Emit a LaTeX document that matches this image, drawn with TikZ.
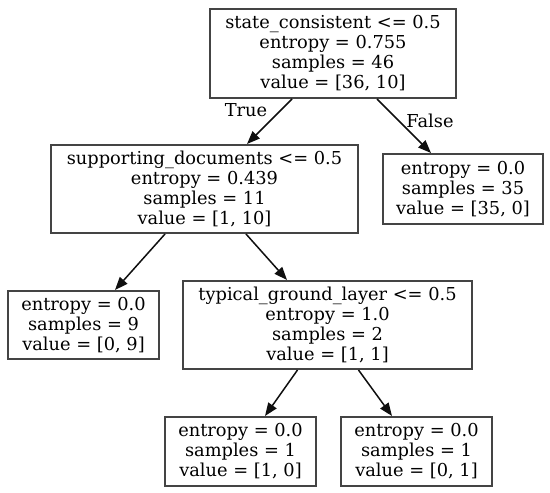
\documentclass[tikz,border=0pt]{standalone}
\usepackage{fontspec}
\usepackage{tikz}
\usetikzlibrary{arrows.meta}
\setmainfont{DejaVu Serif}
\definecolor{boxline}{RGB}{68,68,68}
\definecolor{edgeline}{RGB}{15,15,15}

\begin{document}
\begin{tikzpicture}[x=0.5pt, y=-0.5pt, >={Triangle[length=6.5pt, width=5pt]},
  treebox/.style={draw=boxline, line width=1pt, align=center, inner sep=0pt,
    font=\fontsize{8.9}{10}\selectfont},
  edgelbl/.style={font=\fontsize{8.9}{10}\selectfont}]
  \useasboundingbox (0,0) rectangle (550,492);
  % Split nodes
  \node[treebox, minimum width=123pt, minimum height=44.5pt] (root) at (333,53.5)
    {state\_consistent <= 0.5\\entropy = 0.755\\samples = 46\\value = [36, 10]};
  \node[treebox, minimum width=153.5pt, minimum height=44pt] (supp) at (204.5,189)
    {supporting\_documents <= 0.5\\entropy = 0.439\\samples = 11\\value = [1, 10]};
  \node[treebox, minimum width=144.5pt, minimum height=44pt] (typ) at (327.5,325)
    {typical\_ground\_layer <= 0.5\\entropy = 1.0\\samples = 2\\value = [1, 1]};
  % Leaves
  \node[treebox, minimum width=80pt, minimum height=35pt] (leafa) at (463,189)
    {entropy = 0.0\\samples = 35\\value = [35, 0]};
  \node[treebox, minimum width=75.5pt, minimum height=34pt] (leafb) at (83.5,325)
    {entropy = 0.0\\samples = 9\\value = [0, 9]};
  \node[treebox, minimum width=75.5pt, minimum height=34.5pt] (leafc) at (240.5,451.5)
    {entropy = 0.0\\samples = 1\\value = [1, 0]};
  \node[treebox, minimum width=75.5pt, minimum height=34.5pt] (leafd) at (416.5,451.5)
    {entropy = 0.0\\samples = 1\\value = [0, 1]};
  % Edges
  \foreach \a/\ax/\b/\bx in {root/-20.5/supp/21.25, root/22/leafa/-16,
      supp/-19.75/leafb/15.75, supp/20.75/typ/-20.25,
      typ/-15/leafc/12.25, typ/15.5/leafd/-12.25}
    \draw[->, edgeline, line width=0.75pt] ([xshift=\ax pt]\a.south) -- ([xshift=\bx pt]\b.north);
  % Branch labels
  \node[edgelbl] (lbltrue) at (246,110) {True};
  \node[edgelbl] (lblfalse) at (430,121) {False};
\end{tikzpicture}
\end{document}
